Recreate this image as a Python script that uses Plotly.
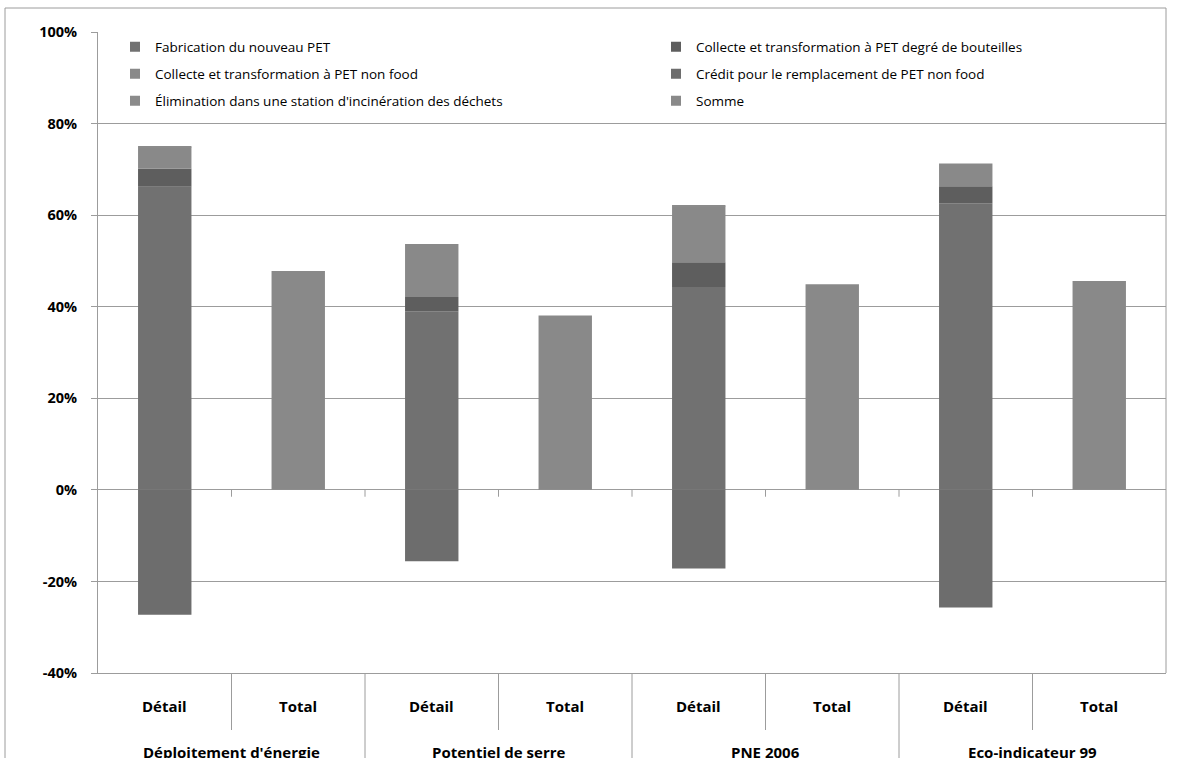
import plotly.graph_objects as go

# Categories
groups = ["Déploitement d'énergie", "Potentiel de serre", "PNE 2006", "Eco-indicateur 99"]
subs = ["Détail", "Total"]

# Series values (%), one value per group
fabrication = [66.2, 39.0, 44.3, 62.6]
collecte_bouteilles = [4.0, 3.1, 5.4, 3.7]
collecte_non_food = [4.6, 11.6, 12.2, 5.0]
credit_non_food = [-27.3, -15.6, -17.2, -25.7]
elimination = [0.3, 0.0, 0.2, 0.0]
somme = [47.8, 38.1, 44.9, 45.6]

y_ticks = [-40, -20, 0, 20, 40, 60, 80, 100]

series = [
    ("Fabrication du nouveau PET", fabrication, "Détail", "#717171"),
    ("Collecte et transformation à PET degré de bouteilles", collecte_bouteilles, "Détail", "#5e5e5e"),
    ("Collecte et transformation à PET non food", collecte_non_food, "Détail", "#898989"),
    ("Crédit pour le remplacement de PET non food", credit_non_food, "Détail", "#6d6d6d"),
    ("Élimination dans une station d'incinération des déchets", elimination, "Détail", "#8b8b8b"),
    ("Somme", somme, "Total", "#898989"),
]

x_groups = [g for g in groups for _ in subs]
x_subs = [s for _ in groups for s in subs]

FONT = "Open Sans"
GRID = "#9c9c9c"
W, H = 1182, 758
ML, MR, MT, MB = 98, 16, 32, 85
plot_w = W - ML - MR
plot_h = H - MT - MB


def py(px):
    """paper y coordinate for a pixel row"""
    return 1 - (px - MT) / plot_h


def px_x(px):
    """paper x coordinate for a pixel column"""
    return (px - ML) / plot_w


# legend keys laid out in two columns, three rows
legend_cols = [115, 656]
legend_rows = [47, 74, 101]
legend_names = ["legend"] + [f"legend{i}" for i in range(2, len(series) + 1)]

fig = go.Figure()
for (name, vals, slot, color), lg in zip(series, legend_names):
    y = []
    for i, _ in enumerate(groups):
        for s in subs:
            y.append(vals[i] if s == slot else None)
    fig.add_trace(go.Bar(
        x=[x_groups, x_subs], y=y, name=name,
        marker=dict(color=color, line=dict(width=0)),
        showlegend=False,
    ))
    # square legend key
    fig.add_trace(go.Scatter(
        x=[[groups[0]], [subs[0]]], y=[None], name=name, mode="markers",
        marker=dict(symbol="square", size=10, color=color),
        showlegend=True, hoverinfo="skip", legend=lg,
    ))

n_cat = len(x_subs)
shapes = []
# tick marks hanging from the 0% axis at every category boundary
for k in range(1, n_cat):
    shapes.append(dict(type="line", xref="paper", yref="y", x0=k / n_cat, x1=k / n_cat,
                       y0=0, y1=-1.5, line=dict(color=GRID, width=1)))
# separators below the plot: short ones between Détail / Total, long ones between groups
for k in range(1, n_cat):
    bottom = py(730) if k % 2 else -0.2
    shapes.append(dict(type="line", xref="paper", yref="paper", x0=k / n_cat, x1=k / n_cat,
                       y0=0, y1=bottom, line=dict(color=GRID, width=1)))
# outer frame of the chart
fx0 = px_x(5)
fy_top = py(8)
shapes.append(dict(type="line", xref="paper", yref="paper", x0=fx0, x1=1, y0=fy_top, y1=fy_top,
                   line=dict(color=GRID, width=1)))
shapes.append(dict(type="line", xref="paper", yref="paper", x0=fx0, x1=fx0, y0=fy_top, y1=-0.2,
                   line=dict(color=GRID, width=1)))
shapes.append(dict(type="line", xref="paper", yref="paper", x0=1, x1=1, y0=fy_top, y1=0,
                   line=dict(color=GRID, width=1)))

# category labels: sub level then group level
annotations = []
label_font = dict(family=FONT, size=15, weight="bold", color="#000000")
for i, s in enumerate(x_subs):
    annotations.append(dict(text=s, xref="paper", yref="paper", x=(i + 0.5) / n_cat, y=py(706),
                            xanchor="center", yanchor="middle", showarrow=False, font=label_font))
for j, g in enumerate(groups):
    annotations.append(dict(text=g, xref="paper", yref="paper", x=(2 * j + 1) / n_cat, y=py(752),
                            xanchor="center", yanchor="middle", showarrow=False, font=label_font))

legend_layout = {}
for idx, lg in enumerate(legend_names):
    row, col = divmod(idx, 2)
    legend_layout[lg] = dict(
        orientation="h", xanchor="left", yanchor="middle",
        x=px_x(legend_cols[col]), y=py(legend_rows[row]),
        font=dict(family=FONT, size=13.5, color="#000000"),
        bgcolor="rgba(0,0,0,0)", borderwidth=0,
    )

fig.update_layout(
    width=W, height=H,
    margin=dict(l=ML, r=MR, t=MT, b=MB),
    paper_bgcolor="white", plot_bgcolor="white",
    barmode="relative", bargap=0.6,
    font=dict(family=FONT, color="#000000"),
    shapes=shapes,
    annotations=annotations,
    xaxis=dict(
        type="multicategory", showgrid=False, showline=True, linecolor=GRID,
        ticks="", showdividers=False, showticklabels=False,
    ),
    yaxis=dict(
        range=[-40, 100], tickvals=y_ticks, ticktext=[f"{v}%" for v in y_ticks],
        showgrid=True, gridcolor=GRID, gridwidth=1,
        zeroline=True, zerolinecolor=GRID, zerolinewidth=1,
        showline=True, linecolor=GRID, ticks="outside", ticklen=6, tickcolor=GRID,
        tickfont=dict(family=FONT, size=14.5, weight="bold", color="#000000"),
        ticklabelstandoff=11,
    ),
    **legend_layout,
)

fig.write_html("out.html")
